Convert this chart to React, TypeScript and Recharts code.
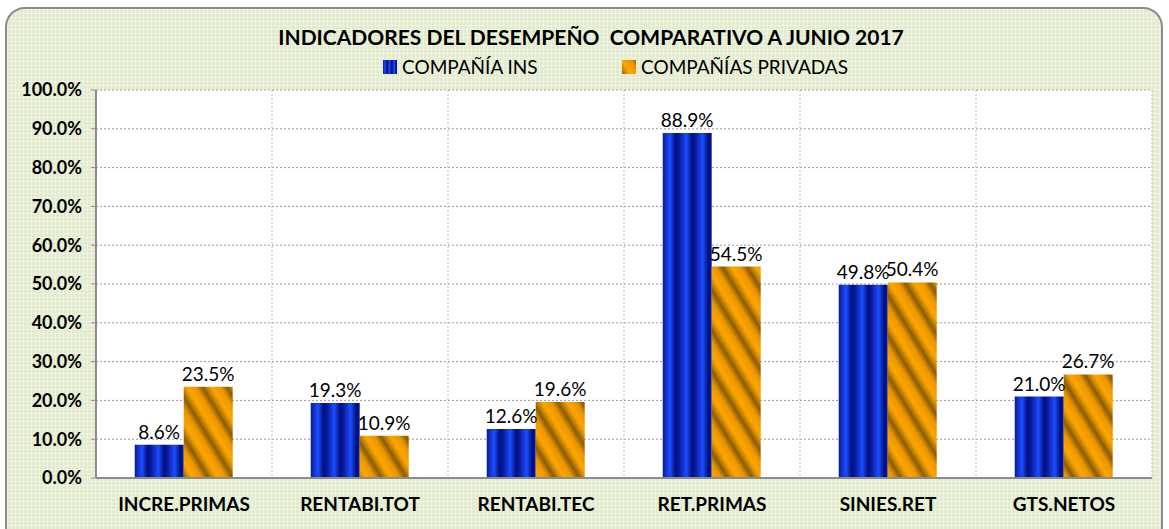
import React from 'react';
import { BarChart, Bar, XAxis, YAxis, CartesianGrid, LabelList } from 'recharts';

const categories = ['INCRE.PRIMAS', 'RENTABI.TOT', 'RENTABI.TEC', 'RET.PRIMAS', 'SINIES.RET', 'GTS.NETOS'];
const ins = [8.6, 19.3, 12.6, 88.9, 49.8, 21.0];
const privadas = [23.5, 10.9, 19.6, 54.5, 50.4, 26.7];
const yTicks = [0, 10, 20, 30, 40, 50, 60, 70, 80, 90, 100];
const seriesNames = ['COMPAÑÍA INS', 'COMPAÑÍAS PRIVADAS'];

const data = categories.map((c, i) => ({ name: c, ins: ins[i], priv: privadas[i] }));

const FONT = 'Lato, "Open Sans", sans-serif';

export default function App() {
  return (
    <div style={{ position: 'absolute', left: 0, top: 0, width: 1169, height: 529, overflow: 'hidden', background: '#fff' }}>
      <div
        style={{
          position: 'absolute', left: 5, top: 7, width: 1158, height: 540,
          border: '2px solid #8c8c8c', borderRadius: 20, boxSizing: 'border-box',
          backgroundColor: '#e2ebcd',
          backgroundImage:
            'linear-gradient(to right, rgba(255,255,255,0.35) 1px, transparent 1px), linear-gradient(to bottom, rgba(255,255,255,0.35) 1px, transparent 1px)',
          backgroundSize: '4px 4px',
        }}
      />
      <div style={{ position: 'absolute', left: 0, top: 24, width: 1182, textAlign: 'center', fontFamily: FONT, fontWeight: 700, fontSize: 21, lineHeight: '26px', color: '#000' }}>
        INDICADORES DEL DESEMPEÑO&nbsp; COMPARATIVO A JUNIO 2017
      </div>
      <svg width={0} height={0} style={{ position: 'absolute' }}>
        <defs>
          <linearGradient id="blueStripe" x1="0" y1="0" x2="0.333" y2="0" spreadMethod="repeat">
            <stop offset="0" stopColor="#0a1a9a" />
            <stop offset="0.45" stopColor="#1a4dff" />
            <stop offset="0.8" stopColor="#00107a" />
            <stop offset="1" stopColor="#0a1a9a" />
          </linearGradient>
          <linearGradient id="orangeStripe" gradientUnits="userSpaceOnUse" x1="0" y1="0" x2="18" y2="-11" spreadMethod="repeat">
            <stop offset="0" stopColor="#ffa500" />
            <stop offset="0.35" stopColor="#eb9600" />
            <stop offset="0.62" stopColor="#8a5c00" />
            <stop offset="0.85" stopColor="#d89000" />
            <stop offset="1" stopColor="#ffa500" />
          </linearGradient>
        </defs>
      </svg>
      <div style={{ position: 'absolute', left: 383, top: 56, display: 'flex', alignItems: 'center', fontFamily: FONT, fontSize: 19, lineHeight: '22px', color: '#000' }}>
        <svg width={14} height={14} style={{ marginRight: 5 }}><rect width={14} height={14} fill="url(#blueStripe)" /></svg>
        <span>{seriesNames[0]}</span>
      </div>
      <div style={{ position: 'absolute', left: 622, top: 56, display: 'flex', alignItems: 'center', fontFamily: FONT, fontSize: 19, lineHeight: '22px', color: '#000' }}>
        <svg width={14} height={14} style={{ marginRight: 5 }}><rect width={14} height={14} fill="url(#orangeStripe)" /></svg>
        <span>{seriesNames[1]}</span>
      </div>
      <div style={{ position: 'absolute', left: 0, top: 0 }}>
        <BarChart
          width={1169}
          height={529}
          data={data}
          margin={{ top: 90, right: 17, left: 0, bottom: 0 }}
          barCategoryGap="22%"
          barGap={0}
        >
          <CartesianGrid
            fill="#ffffff"
            stroke="#9a9a9a"
            strokeDasharray="2 2"
            horizontal={true}
            vertical={false}
          />
          <CartesianGrid
            stroke="#c9bc92"
            strokeDasharray="2 2"
            horizontal={false}
            vertical={true}
            verticalCoordinatesGenerator={({ offset }: any) =>
              categories.map((_, i) => offset.left + ((i + 1) * offset.width) / categories.length)
            }
          />
          <XAxis
            dataKey="name"
            height={51}
            axisLine={{ stroke: '#8c8c8c', strokeWidth: 2 }}
            tickLine={false}
            interval={0}
            tick={{ fontFamily: FONT, fontWeight: 700, fontSize: 19, fill: '#000', dy: 12 }}
          />
          <YAxis
            width={96}
            domain={[0, 100]}
            ticks={yTicks}
            axisLine={{ stroke: '#8c8c8c', strokeWidth: 2 }}
            tickLine={{ stroke: '#8c8c8c' }}
            tickSize={5}
            tickFormatter={(v: number) => v.toFixed(1) + '%'}
            tick={{ fontFamily: FONT, fontWeight: 700, fontSize: 18, fill: '#000', dx: -7 }}
            interval={0}
          />
          <Bar dataKey="ins" name={seriesNames[0]} fill="url(#blueStripe)" isAnimationActive={false}>
            <LabelList dataKey="ins" position="top" offset={6} formatter={(v: any) => Number(v).toFixed(1) + '%'} style={{ fontFamily: FONT, fontSize: 19, fill: '#000' }} />
          </Bar>
          <Bar dataKey="priv" name={seriesNames[1]} fill="url(#orangeStripe)" isAnimationActive={false}>
            <LabelList dataKey="priv" position="top" offset={6} formatter={(v: any) => Number(v).toFixed(1) + '%'} style={{ fontFamily: FONT, fontSize: 19, fill: '#000' }} />
          </Bar>
        </BarChart>
      </div>
    </div>
  );
}
